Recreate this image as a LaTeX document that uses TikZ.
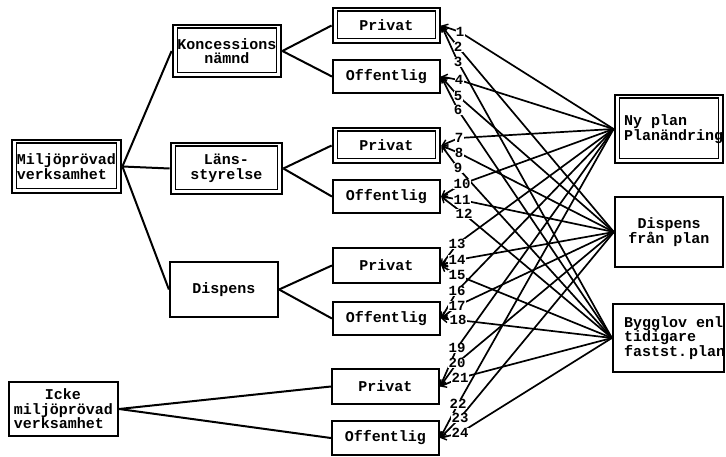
\documentclass[tikz,border=0pt]{standalone}
\usepackage{fontspec}
\newfontfamily\tw{Liberation Mono}
\usetikzlibrary{arrows.meta,backgrounds}
\tikzset{
  x=1pt, y=1pt,
  txt/.style={font=\tw\bfseries\fontsize{15}{14.5}\selectfont, inner sep=0pt},
  box/.style={draw, line width=2.2pt, fill=white, inner sep=0pt, txt, align=center},
  dbox/.style={box, line width=2.8pt,
    path picture={\draw[line width=1.1pt]
      ([xshift=4.5pt,yshift=-3pt]path picture bounding box.north west) rectangle
      ([xshift=-4.5pt,yshift=4.5pt]path picture bounding box.south east);}},
  num/.style={font=\tw\bfseries\fontsize{14}{14}\selectfont, fill=white, inner sep=0.3pt},
  link/.style={line width=2pt},
  conn/.style={line width=1.7pt, {Straight Barb[length=5pt,width=7pt,line width=1.4pt]}-},
}
\begin{document}
\begin{tikzpicture}
\useasboundingbox (0,0) rectangle (726,456);
\clip (0,0) rectangle (726,456);

% left column
\node[dbox, minimum width=109, minimum height=53, align=left] (M) at (66.5,289.5) {Miljöprövad\\verksamhet};
\node[box, minimum width=109, minimum height=54, align=left] (I) at (63.5,47) {\hspace*{31pt}Icke\\miljöprövad\\verksamhet};

% middle column
\node[dbox, minimum width=108, minimum height=52] (K) at (227,405) {Koncessions\\nämnd};
\node[dbox, minimum width=111, minimum height=51] (L) at (226.5,287.5) {Läns-\\styrelse};
\node[box, minimum width=108, minimum height=55] (D) at (224,166.5) {Dispens};

% sources
\node[dbox, minimum width=107, minimum height=35] (P1) at (386.5,430.5) {Privat};
\node[box,  minimum width=107, minimum height=33] (O1) at (386.5,379.5) {Offentlig};
\node[dbox, minimum width=107, minimum height=35] (P2) at (386.5,310.5) {Privat};
\node[box,  minimum width=107, minimum height=33] (O2) at (386.5,259.5) {Offentlig};
\node[box,  minimum width=107, minimum height=35] (P3) at (386.5,190.5) {Privat};
\node[box,  minimum width=107, minimum height=33] (O3) at (386.5,137.5) {Offentlig};
\node[box,  minimum width=107, minimum height=35] (P4) at (385.5,69.5) {Privat};
\node[box,  minimum width=107, minimum height=34] (O4) at (385.5,18) {Offentlig};

% targets
\node[dbox, minimum width=108, minimum height=68] (NY) at (669,327) {};
\node[txt, anchor=west, align=left] (NYt) at (624,327) {Ny plan\\Planändring};
\node[box, minimum width=108, minimum height=70] (DF) at (669,224) {Dispens\\från plan};
\node[box, minimum width=111, minimum height=68] (BY) at (668.5,118) {};
\node[txt, anchor=west, align=left] (BYt) at (624,118) {Bygglov enl\\tidigare\\fastst.\hspace{2pt}plan};

% numbers
\node[num] (n1) at (460,424) {1};
\node[num] (n2) at (458,409) {2};
\node[num] (n3) at (458,394) {3};
\node[num] (n4) at (459,376) {4};
\node[num] (n5) at (458,360) {5};
\node[num] (n6) at (458,346) {6};
\node[num] (n7) at (459,318) {7};
\node[num] (n8) at (459,303) {8};
\node[num] (n9) at (458,288) {9};
\node[num] (n10) at (462,272) {10};
\node[num] (n11) at (462,256) {11};
\node[num] (n12) at (464,242) {12};
\node[num] (n13) at (457,212) {13};
\node[num] (n14) at (457,196) {14};
\node[num] (n15) at (457,181) {15};
\node[num] (n16) at (457,165) {16};
\node[num] (n17) at (457,150) {17};
\node[num] (n18) at (458,136) {18};
\node[num] (n19) at (457,108) {19};
\node[num] (n20) at (457,93) {20};
\node[num] (n21) at (460,78) {21};
\node[num] (n22) at (458,52) {22};
\node[num] (n23) at (460,38) {23};
\node[num] (n24) at (460,23) {24};

\begin{pgfonlayer}{background}
\fill[white] (0,0) rectangle (726,456);
\draw[link] (M.east) -- (K.west);
\draw[link] (M.east) -- (L.west);
\draw[link] (M.east) -- (D.west);
\draw[link] (K.east) -- (P1.west);
\draw[link] (K.east) -- (O1.west);
\draw[link] (L.east) -- (P2.west);
\draw[link] (L.east) -- (O2.west);
\draw[link] (D.east) -- (P3.west);
\draw[link] (D.east) -- (O3.west);
\draw[link] (I.east) -- (P4.west);
\draw[link] (I.east) -- (O4.west);

\foreach \s [count=\i from 0] in {P1,O1,P2,O2,P3,O3,P4,O4} {
  \pgfmathtruncatemacro\a{3*\i+1}
  \pgfmathtruncatemacro\b{3*\i+2}
  \pgfmathtruncatemacro\c{3*\i+3}
  \draw[conn] (\s.east) -- (n\a.center) -- (NY.west);
  \draw[conn] (\s.east) -- (n\b.center) -- (DF.west);
  \draw[conn] (\s.east) -- (n\c.center) -- (BY.west);
}
\end{pgfonlayer}
\end{tikzpicture}
\end{document}
